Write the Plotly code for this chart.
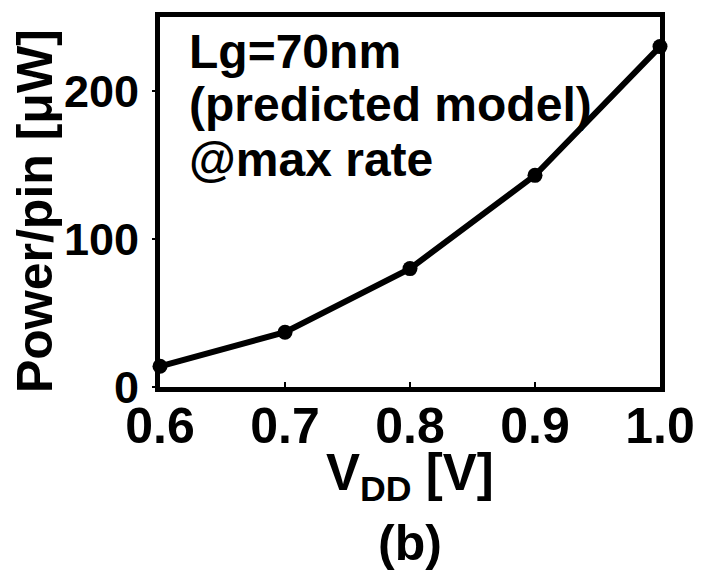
import plotly.graph_objects as go

vdd = [0.6, 0.7, 0.8, 0.9, 1.0]
power = [14, 37, 80, 143, 230]
x_ticks = [0.6, 0.7, 0.8, 0.9, 1.0]
x_ticklabels = ["0.6", "0.7", "0.8", "0.9", "1.0"]
y_ticks = [0, 100, 200]
y_ticklabels = ["0", "100", "200"]

FONT = "Liberation Sans"

fig = go.Figure()
fig.add_trace(go.Scatter(
    x=vdd, y=power, mode="lines+markers",
    line=dict(color="black", width=6),
    marker=dict(color="black", size=15),
    cliponaxis=False, showlegend=False,
))

fig.update_layout(
    width=707, height=574,
    margin=dict(l=160, r=36, t=12, b=187),
    plot_bgcolor="white", paper_bgcolor="white",
    font=dict(family=FONT, color="black", size=46, weight="bold"),
    xaxis=dict(range=[0.6, 1.0], tickvals=x_ticks, ticktext=x_ticklabels,
               showline=True, linewidth=5, linecolor="black", mirror=True,
               ticks="inside", ticklen=5, tickwidth=2, tickcolor="black",
               showgrid=False, zeroline=False, ticklabelstandoff=-9,
               tickfont=dict(family=FONT, size=50, weight="bold")),
    yaxis=dict(range=[0, 250], tickvals=y_ticks, ticktext=y_ticklabels,
               showline=True, linewidth=5, linecolor="black", mirror=True,
               ticks="outside", ticklen=3, tickwidth=2, tickcolor="black",
               showgrid=False, zeroline=False, ticklabelstandoff=4,
               tickfont=dict(family=FONT, size=45, weight="bold")),
)

pw = 511.0
ph = 375.0
annos = [
    dict(text="Power/pin [μW]", x=-(160 - 33) / pw, y=1 - (209 - 12) / ph, textangle=-90,
         font=dict(family=FONT, size=50, weight="bold")),
    dict(text="V<sub>DD</sub> [V]", x=0.5, y=-(478 - 387) / ph,
         font=dict(family=FONT, size=51, weight="bold")),
    dict(text="(b)", x=0.5, y=-(545 - 387) / ph,
         font=dict(family=FONT, size=50, weight="bold")),
    dict(text="Lg=70nm", x=(188 - 160) / pw, y=1 - (47 - 12) / ph, xanchor="left",
         font=dict(family=FONT, size=48, weight="bold")),
    dict(text="(predicted model)", x=(188 - 160) / pw, y=1 - (101 - 12) / ph, xanchor="left",
         font=dict(family=FONT, size=48, weight="bold")),
    dict(text="@max rate", x=(188 - 160) / pw, y=1 - (156 - 12) / ph, xanchor="left",
         font=dict(family=FONT, size=48, weight="bold")),
]
for a in annos:
    a.update(xref="paper", yref="paper", showarrow=False)
    if "xanchor" not in a:
        a["xanchor"] = "center"
    a["yanchor"] = "middle"
fig.update_layout(annotations=annos)

fig.write_html("out.html")
